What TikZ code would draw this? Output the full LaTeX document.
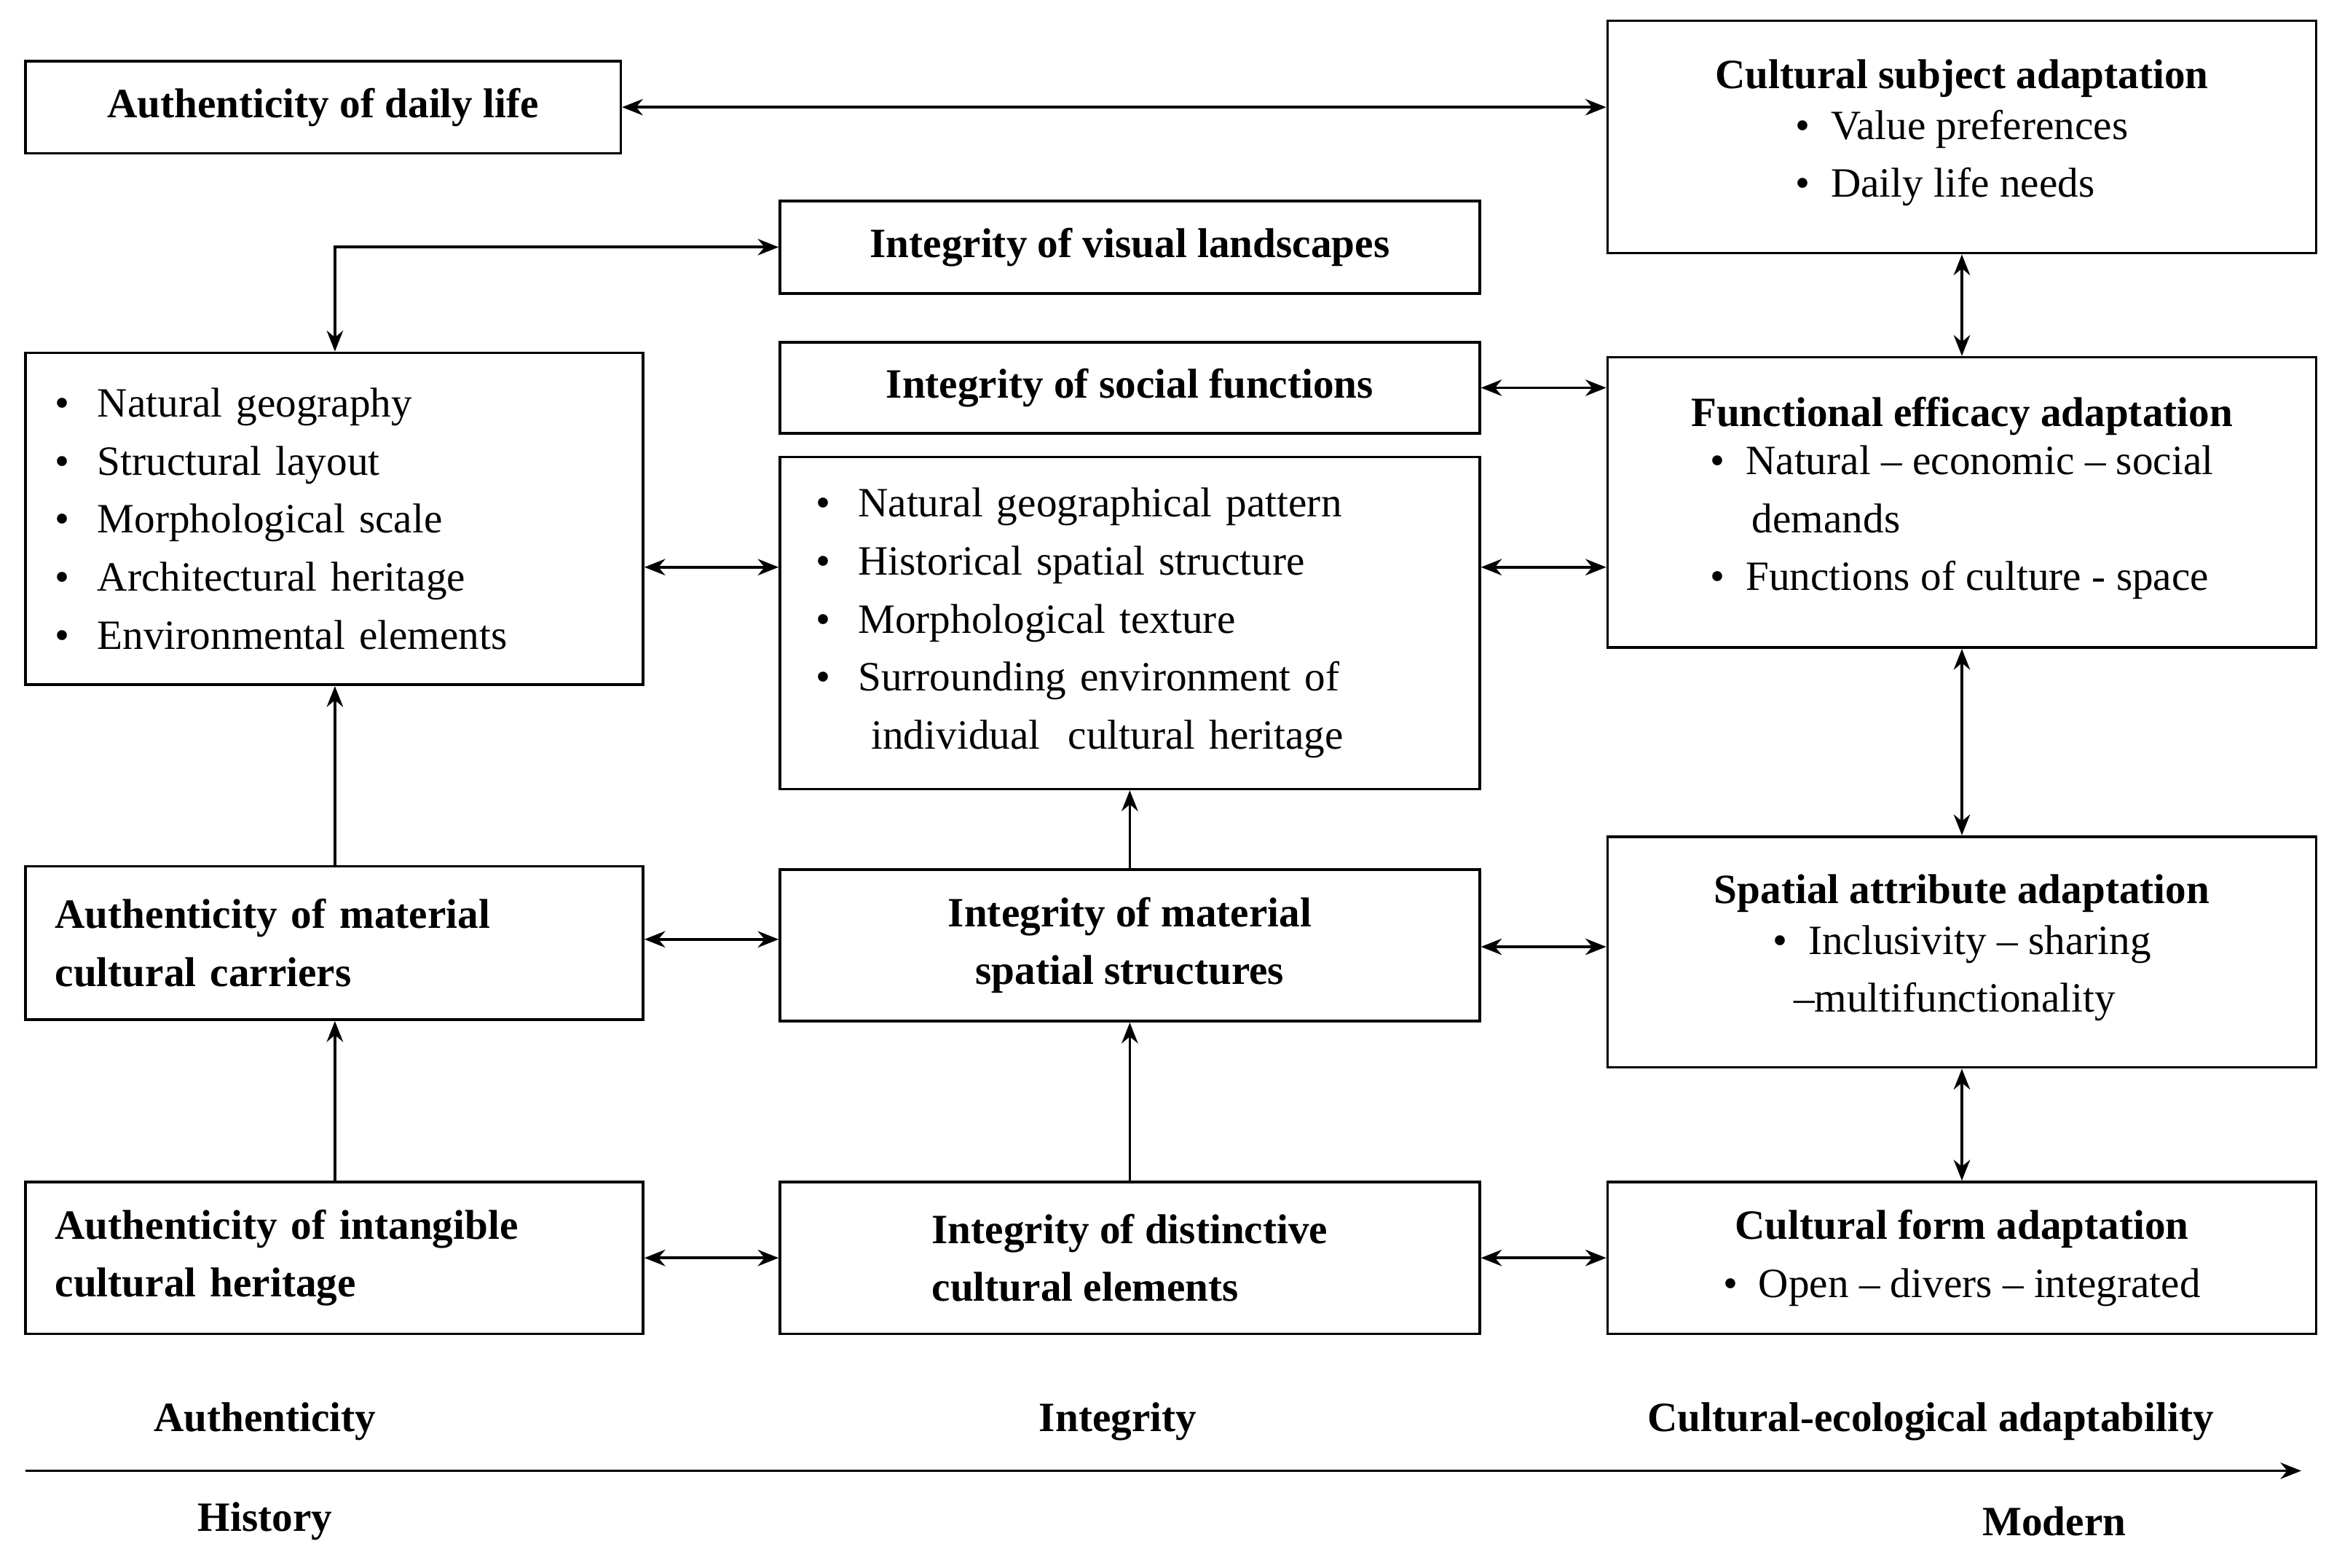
\documentclass[tikz,border=0pt]{standalone}
\usepackage{fontspec}
\setmainfont{Liberation Serif}
\usetikzlibrary{arrows.meta}
\begin{document}
\begin{tikzpicture}[x=1pt,y=-1pt,
 box/.style={draw,line width=1.8pt,inner sep=0pt,font=\fontsize{28}{39}\selectfont},
 lbox/.style={box,align=left,text width=#1},
 ar/.style={line width=1.8pt,{Stealth[length=14pt,width=11pt]}-{Stealth[length=14pt,width=11pt]}},
 ur/.style={line width=1.8pt,-{Stealth[length=14pt,width=11pt]}},
 lab/.style={font=\fontsize{28}{34}\selectfont\bfseries}]
\useasboundingbox (0,0) rectangle (1568,1053);
\node[box,minimum width=400,minimum height=62,font=\fontsize{28}{34}\selectfont\bfseries] (daily) at (217,72) {Authenticity of daily life};
\node[box,minimum width=476,minimum height=156,align=center] (subj) at (1318,92) {\textbf{Cultural subject adaptation}\\\begin{tabular}{@{}l@{}}\textbullet\ \ Value preferences\\\textbullet\ \ Daily life needs\end{tabular}};
\node[box,minimum width=470,minimum height=62,font=\fontsize{28}{34}\selectfont\bfseries] (vis) at (759,166) {Integrity of visual landscapes};
\node[box,minimum width=415,minimum height=223,lbox=375] (ll) at (224.5,348.5) {\textbullet\ \ Natural geography\\\textbullet\ \ Structural layout\\\textbullet\ \ Morphological scale\\\textbullet\ \ Architectural heritage\\\textbullet\ \ Environmental elements};
\node[box,minimum width=470,minimum height=61,font=\fontsize{28}{34}\selectfont\bfseries] (soc) at (759,260.5) {Integrity of social functions};
\node[box,minimum width=476,minimum height=195,align=center] (func) at (1318,337.5) {\textbf{Functional efficacy adaptation}\\[-2pt]\begin{tabular}{@{}l@{}}\textbullet\ \ Natural -- economic -- social\\\ \ \ \ demands\\\textbullet\ \ Functions of culture - space\end{tabular}};
\node[box,minimum width=470,minimum height=223,lbox=422] (ml) at (759,418.5) {\textbullet\ \ Natural geographical pattern\\\textbullet\ \ Historical spatial structure\\\textbullet\ \ Morphological texture\\\textbullet\ \ Surrounding environment of\\\ \ \ \ individual\ \ cultural heritage};
\node[box,minimum width=415,minimum height=103,lbox=375,font=\fontsize{28}{39}\selectfont\bfseries] (mc) at (224.5,633.5) {Authenticity of material\\cultural carriers};
\node[box,minimum width=470,minimum height=102,align=center,font=\fontsize{28}{39}\selectfont\bfseries] (ms) at (759,635) {Integrity of material\\spatial structures};
\node[box,minimum width=476,minimum height=155,align=center] (sa) at (1318,639.5) {\textbf{Spatial attribute adaptation}\\\begin{tabular}{@{}l@{}}\textbullet\ \ Inclusivity -- sharing\\\ \ --multifunctionality\end{tabular}};
\node[box,minimum width=415,minimum height=102,lbox=375,font=\fontsize{28}{39}\selectfont\bfseries] (it) at (224.5,845) {Authenticity of intangible\\cultural heritage};
\node[box,minimum width=470,minimum height=102,align=left,font=\fontsize{28}{39}\selectfont\bfseries] (dc) at (759,845) {Integrity of distinctive\\cultural elements};
\node[box,minimum width=476,minimum height=102,align=center] (cf) at (1318,845) {\textbf{Cultural form adaptation}\\\textbullet\ \ Open -- divers -- integrated};
% connectors
\draw[ar] (daily.east) -- (daily.east -| subj.west);
\coordinate (c1) at (225,166);
\draw[ar] (vis.west) -- (c1) -- (c1 |- ll.north);
\draw[ar] (ll.east |- 0,381) -- (ml.west |- 0,381);
\draw[ar] (soc.east) -- (soc.east -| func.west);
\draw[ar] (ml.east |- 0,381) -- (func.west |- 0,381);
\draw[ar] (subj.south) -- (func.north);
\draw[ar] (func.south) -- (sa.north);
\draw[ar] (sa.south) -- (cf.north);
\draw[ur] (mc.north -| 225,0) -- (ll.south -| 225,0);
\draw[ur] (it.north -| 225,0) -- (mc.south -| 225,0);
\draw[ur] (ms.north) -- (ml.south);
\draw[ur] (dc.north) -- (ms.south);
\draw[ar] (mc.east |- 0,631) -- (ms.west |- 0,631);
\draw[ar] (ms.east |- 0,636) -- (sa.west |- 0,636);
\draw[ar] (it.east) -- (dc.west);
\draw[ar] (dc.east) -- (cf.west);
\coordinate (a0) at (17,988); \coordinate (a1) at (1546,988);
\draw[ur] (a0) -- (a1);
\node[lab] (l1) at (178,955) {Authenticity};
\node[lab] (l2) at (751,955) {Integrity};
\node[lab] (l3) at (1297,955) {Cultural-ecological adaptability};
\node[lab] (l4) at (178,1022) {History};
\node[lab] (l5) at (1380,1022) {Modern};
\end{tikzpicture}
\end{document}
